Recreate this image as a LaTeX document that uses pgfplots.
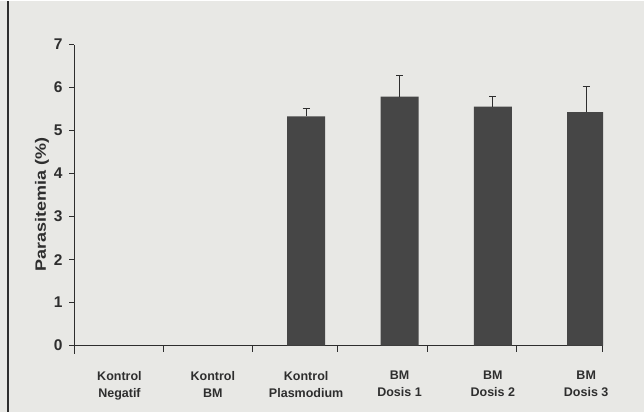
\documentclass[border=0pt]{standalone}
\usepackage{pgfplots}
\pgfplotsset{compat=1.18}
\usepackage{fontspec}
\setmainfont{Liberation Sans}
\definecolor{bg}{HTML}{E8E8E5}
\definecolor{barc}{HTML}{464646}
\definecolor{ink}{HTML}{2E2E2E}
\begin{document}
\begin{tikzpicture}
\fill[bg] (-74pt,-66pt) rectangle (570pt,345pt);
\draw[ink, line width=1.2pt] (-66pt,-66pt) -- (-66pt,345pt);
\begin{axis}[
  at={(0,0)}, anchor=south west,
  scale only axis, width=529pt, height=301pt,
  xmin=-0.487, xmax=5.18, ymin=0, ymax=7,
  axis lines*=left,
  axis line style={ink, line width=0.9pt},
  tick align=outside,
  ybar, bar width=38pt,
  ytick={0,...,7},
  major tick length=5pt,
  y tick style={ink, line width=0.9pt},
  yticklabel style={font=\fontsize{15.5}{15.5}\selectfont\bfseries, text=ink, xshift=-3pt},
  /pgf/number format/assume math mode=true,
  ylabel={Parasitemia (\%)},
  ylabel style={at={(ticklabel cs:0.47)}, font=\fontsize{15}{15}\selectfont\bfseries, text=ink, xscale=1.2, yshift=-2pt},
  xtick={0,...,5},
  xticklabels={Kontrol\\Negatif, Kontrol\\BM, Kontrol\\Plasmodium, BM\\Dosis 1, BM\\Dosis 2, BM\\Dosis 3},
  x tick label style={align=center, font=\fontsize{12.5}{17}\selectfont\bfseries, text=ink, yshift=-17pt},
  x tick style={draw=none},
  extra x ticks={0.47,1.42,2.34,3.30,4.25,5.17},
  extra x tick labels={},
  extra x tick style={x tick style={draw=ink, line width=0.9pt}, major tick length=6pt},
]
\addplot[fill=barc, draw=none,
  error bars/.cd, y dir=plus, y explicit,
  error bar style={ink, line width=1.2pt},
  error mark options={rotate=90, mark size=3.5pt, line width=1.2pt, ink}]
  coordinates {(2,5.33) +- (0,0.19) (3,5.79) +- (0,0.50) (4,5.56) +- (0,0.23) (5,5.43) +- (0,0.60)};
\end{axis}
\draw[ink, line width=0.9pt] (0,0) -- (0,-8pt);
\end{tikzpicture}
\end{document}
